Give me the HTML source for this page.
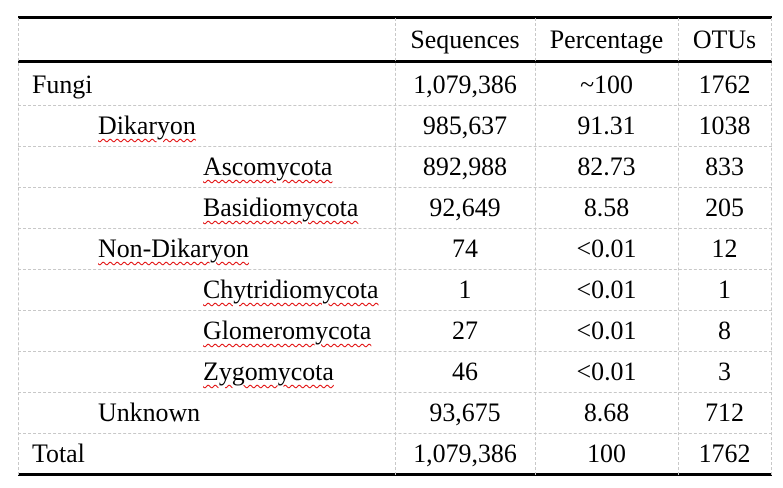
<!DOCTYPE html>
<html><head><style>
body{margin:0;width:783px;height:488px;background:#fff;position:relative;font-family:"Liberation Serif",serif;font-size:25.9px;color:#000;overflow:hidden}
.h{position:absolute;background:#000;left:18px;width:754px}
.d{position:absolute;left:18px;width:754px;border-top:1px dashed #c8c8c8;height:0}
.v{position:absolute;top:18px;height:457px;border-left:1px dashed #c8c8c8;width:0}
.t{position:absolute;line-height:28px;white-space:nowrap}
.c{text-align:center}
.w{text-decoration:underline wavy #e00000;text-decoration-thickness:1px;text-underline-offset:4px}
</style></head><body>
<div class="h" style="top:16px;height:3px"></div>
<div class="h" style="top:60px;height:3px"></div>
<div class="h" style="top:473px;height:3px"></div>
<div class="v" style="left:18px"></div>
<div class="v" style="left:395px"></div>
<div class="v" style="left:535px"></div>
<div class="v" style="left:678px"></div>
<div class="v" style="left:771px"></div>
<div class="d" style="top:105px"></div>
<div class="d" style="top:146px"></div>
<div class="d" style="top:187px"></div>
<div class="d" style="top:228px"></div>
<div class="d" style="top:269px"></div>
<div class="d" style="top:310px"></div>
<div class="d" style="top:351px"></div>
<div class="d" style="top:392px"></div>
<div class="d" style="top:433px"></div>

<div class="t c" style="left:395px;width:140px;top:26px">Sequences</div>
<div class="t c" style="left:535px;width:143px;top:26px">Percentage</div>
<div class="t c" style="left:678px;width:93px;top:26px">OTUs</div>

<div class="t" style="left:32px;top:71px">Fungi</div>
<div class="t" style="left:98px;top:112px"><span class="w">Dikaryon</span></div>
<div class="t" style="left:203px;top:153px"><span class="w">Ascomycota</span></div>
<div class="t" style="left:203px;top:194px"><span class="w">Basidiomycota</span></div>
<div class="t" style="left:98px;top:235px"><span class="w">Non-Dikaryon</span></div>
<div class="t" style="left:203px;top:276px"><span class="w">Chytridiomycota</span></div>
<div class="t" style="left:203px;top:317px"><span class="w">Glomeromycota</span></div>
<div class="t" style="left:203px;top:358px"><span class="w">Zygomycota</span></div>
<div class="t" style="left:98px;top:399px">Unknown</div>
<div class="t" style="left:32px;top:440px">Total</div>

<div class="t c" style="left:395px;width:140px;top:71px">1,079,386</div>
<div class="t c" style="left:395px;width:140px;top:112px">985,637</div>
<div class="t c" style="left:395px;width:140px;top:153px">892,988</div>
<div class="t c" style="left:395px;width:140px;top:194px">92,649</div>
<div class="t c" style="left:395px;width:140px;top:235px">74</div>
<div class="t c" style="left:395px;width:140px;top:276px">1</div>
<div class="t c" style="left:395px;width:140px;top:317px">27</div>
<div class="t c" style="left:395px;width:140px;top:358px">46</div>
<div class="t c" style="left:395px;width:140px;top:399px">93,675</div>
<div class="t c" style="left:395px;width:140px;top:440px">1,079,386</div>

<div class="t c" style="left:535px;width:143px;top:71px">~100</div>
<div class="t c" style="left:535px;width:143px;top:112px">91.31</div>
<div class="t c" style="left:535px;width:143px;top:153px">82.73</div>
<div class="t c" style="left:535px;width:143px;top:194px">8.58</div>
<div class="t c" style="left:535px;width:143px;top:235px">&lt;0.01</div>
<div class="t c" style="left:535px;width:143px;top:276px">&lt;0.01</div>
<div class="t c" style="left:535px;width:143px;top:317px">&lt;0.01</div>
<div class="t c" style="left:535px;width:143px;top:358px">&lt;0.01</div>
<div class="t c" style="left:535px;width:143px;top:399px">8.68</div>
<div class="t c" style="left:535px;width:143px;top:440px">100</div>

<div class="t c" style="left:678px;width:93px;top:71px">1762</div>
<div class="t c" style="left:678px;width:93px;top:112px">1038</div>
<div class="t c" style="left:678px;width:93px;top:153px">833</div>
<div class="t c" style="left:678px;width:93px;top:194px">205</div>
<div class="t c" style="left:678px;width:93px;top:235px">12</div>
<div class="t c" style="left:678px;width:93px;top:276px">1</div>
<div class="t c" style="left:678px;width:93px;top:317px">8</div>
<div class="t c" style="left:678px;width:93px;top:358px">3</div>
<div class="t c" style="left:678px;width:93px;top:399px">712</div>
<div class="t c" style="left:678px;width:93px;top:440px">1762</div>
</body></html>
